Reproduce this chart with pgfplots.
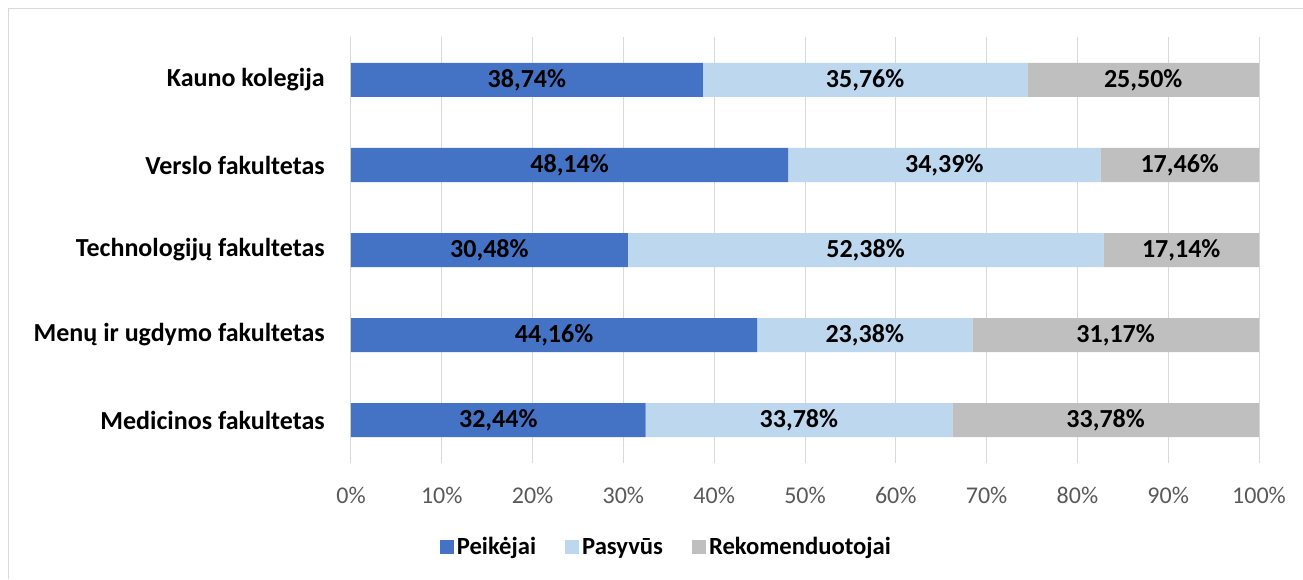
\documentclass[border=0pt]{standalone}
\usepackage{pgfplots}
\pgfplotsset{compat=1.18}
\usepackage{pgfplotstable}
\usepackage{fontspec}
\setmainfont{Carlito}
\definecolor{cPeik}{HTML}{4472C4}
\definecolor{cPas}{HTML}{BDD7EE}
\definecolor{cRek}{HTML}{BFBFBF}
\definecolor{cGrid}{HTML}{D9D9D9}
\definecolor{cTick}{HTML}{595959}
\pgfplotstableread{
idx p pa r
4 38.74 35.76 25.50
3 48.14 34.39 17.46
2 30.48 52.38 17.14
1 44.16 23.38 31.17
0 32.44 33.78 33.78
}\data
\pgfplotsset{
  seg/.style={fill=#1, draw=none,
    point meta=explicit,
    nodes near coords={\pgfmathprintnumber[fixed,fixed zerofill,precision=2,use comma,assume math mode=true]{\pgfplotspointmeta}\%},
    every node near coord/.append style={font=\fontsize{19.5}{23}\selectfont\bfseries, text=black, anchor=center}
  }
}
\begin{document}
\begin{tikzpicture}
\useasboundingbox (0,0) rectangle (977.25pt,434.25pt);
\draw[cGrid, line width=0.75pt] (6pt,0pt) -- (6pt,427.5pt) -- (977.25pt,427.5pt);
\begin{axis}[
  at={(263.25pt,87.375pt)}, anchor=south west,
  width=681pt, height=318.75pt, scale only axis,
  xbar stacked, bar width=25.5pt,
  xmin=0, xmax=100, ymin=-0.5, ymax=4.5,
  xtick={0,10,20,30,40,50,60,70,80,90,100},
  ytick={0,1,2,3,4},
  yticklabels={Medicinos fakultetas, Menų ir ugdymo fakultetas, Technologijų fakultetas, Verslo fakultetas, Kauno kolegija},
  xmajorgrids, major grid style={cGrid, line width=0.75pt},
  axis line style={draw=none}, major tick length=0pt,
  /pgf/number format/assume math mode=true,
  xticklabel={\pgfmathprintnumber{\tick}\%},
  xticklabel style={font=\fontsize{18}{21}\selectfont, text=cTick, anchor=north, inner sep=0pt, yshift=-18pt},
  yticklabel style={font=\fontsize{19.5}{23}\selectfont\bfseries, text=black, anchor=east, inner sep=0pt, xshift=-19.5pt},
  legend style={at={(0.0975,-0.199)}, anchor=west, draw=none, fill=none, inner sep=0pt,
    legend columns=3, font=\fontsize{18.5}{21}\selectfont\bfseries,
    /tikz/every even column/.append style={column sep=19.5pt},
    nodes={inner xsep=2.25pt, inner ysep=0pt}},
  legend image code/.code={\fill[#1, draw=none] (0pt,-5.25pt) rectangle (10.5pt,5.25pt);},
]
\addplot[seg=cPeik]
  table[y=idx, x expr={\thisrow{p}*100/(\thisrow{p}+\thisrow{pa}+\thisrow{r})}, meta=p] {\data};
\addplot[seg=cPas]
  table[y=idx, x expr={\thisrow{pa}*100/(\thisrow{p}+\thisrow{pa}+\thisrow{r})}, meta=pa] {\data};
\addplot[seg=cRek]
  table[y=idx, x expr={\thisrow{r}*100/(\thisrow{p}+\thisrow{pa}+\thisrow{r})}, meta=r] {\data};
\legend{Peikėjai, Pasyvūs, Rekomenduotojai}
\end{axis}
\end{tikzpicture}
\end{document}
